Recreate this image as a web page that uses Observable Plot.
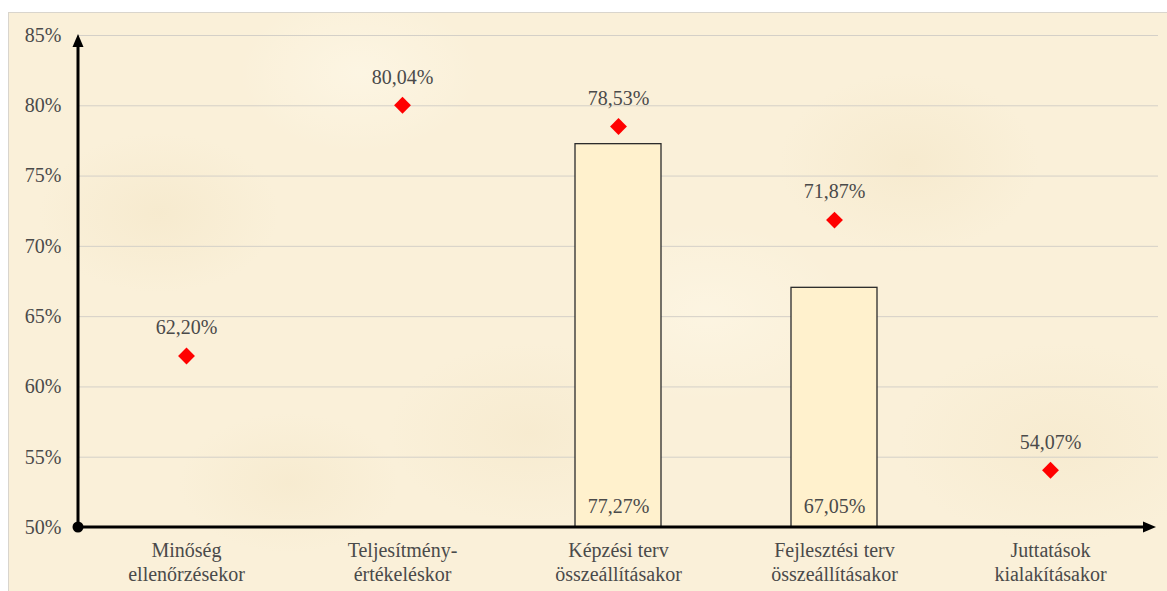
<!DOCTYPE html>
<html><head><meta charset="utf-8">
<script src="https://cdn.jsdelivr.net/npm/d3@7"></script>
<script src="https://cdn.jsdelivr.net/npm/@observablehq/plot@0.6"></script>
<style>
html,body{margin:0;padding:0;background:#fff;}
#wrap{position:relative;width:1167px;height:591px;overflow:hidden;}
#bg{position:absolute;left:8px;top:12px;width:1170px;height:600px;border:1px solid #d9d5cd;
 background:
  radial-gradient(ellipse 120px 80px at 150px 200px, rgba(240,224,188,0.35), transparent),
  radial-gradient(ellipse 140px 90px at 520px 420px, rgba(240,224,188,0.3), transparent),
  radial-gradient(ellipse 130px 90px at 900px 150px, rgba(240,224,188,0.35), transparent),
  radial-gradient(ellipse 160px 100px at 1050px 430px, rgba(240,224,188,0.3), transparent),
  radial-gradient(ellipse 120px 80px at 350px 60px, rgba(255,250,236,0.5), transparent),
  radial-gradient(ellipse 140px 90px at 700px 300px, rgba(255,250,236,0.45), transparent),
  radial-gradient(ellipse 110px 70px at 280px 470px, rgba(240,224,188,0.3), transparent),
  #faf0d9;}
#chart{position:absolute;left:0;top:0;}
#chart svg, #chart svg text, #chart svg g{font-family:"Liberation Serif","DejaVu Serif",serif !important;}
</style>
</head><body>
<div id="wrap"><div id="bg"></div><div id="chart"></div></div>
<script>
const categories = ["Minőség\nellenőrzésekor", "Teljesítmény-\nértékeléskor", "Képzési terv\nösszeállításakor", "Fejlesztési terv\nösszeállításakor", "Juttatások\nkialakításakor"];
const diamondValues = [62.20, 80.04, 78.53, 71.87, 54.07];
const barCategories = ["Képzési terv\nösszeállításakor", "Fejlesztési terv\nösszeállításakor"];
const barValues = [77.27, 67.05];
const yTicks = [50, 55, 60, 65, 70, 75, 80, 85];

const fmt = v => v.toFixed(2).replace(".", ",") + "%";
const points = categories.map((c, i) => ({cat: c, value: diamondValues[i]}));
const bars = barCategories.map((c, i) => ({cat: c, value: barValues[i]}));
const yMin = yTicks[0], yMax = yTicks[yTicks.length - 1];
const serif = "Liberation Serif, DejaVu Serif, serif";
const ink = "#4a4a4a";

function axesMark(index, scales, values, dims) {
  const ns = "http://www.w3.org/2000/svg";
  const g = document.createElementNS(ns, "g");
  const x0 = dims.marginLeft;
  const y0 = scales.y(yMin);
  const yTop = scales.y(yMax);
  const xEnd = dims.width - dims.marginRight - 2;
  const mk = (tag, attrs) => { const e = document.createElementNS(ns, tag); for (const k in attrs) e.setAttribute(k, attrs[k]); g.appendChild(e); return e; };
  mk("line", {x1: x0, y1: y0, x2: x0, y2: yTop + 8, stroke: "#000", "stroke-width": 3});
  mk("polygon", {points: `${x0},${yTop - 1} ${x0 - 5.5},${yTop + 12} ${x0 + 5.5},${yTop + 12}`, fill: "#000"});
  mk("line", {x1: x0, y1: y0, x2: xEnd - 8, y2: y0, stroke: "#000", "stroke-width": 3});
  mk("polygon", {points: `${xEnd},${y0} ${xEnd - 13},${y0 - 5.5} ${xEnd - 13},${y0 + 5.5}`, fill: "#000"});
  mk("circle", {cx: x0, cy: y0, r: 5.5, fill: "#000"});
  return g;
}

const chart = Plot.plot({
  width: 1167,
  height: 591,
  marginLeft: 78,
  marginRight: 9,
  marginTop: 35,
  marginBottom: 64,
  style: {fontFamily: serif, fontSize: "20px", color: ink, background: "transparent", overflow: "visible"},
  x: {type: "band", domain: categories, paddingInner: 0.6, paddingOuter: 0.3},
  y: {domain: [yMin, yMax]},
  marks: [
    Plot.gridY(yTicks.slice(1), {stroke: "#d4d0c8", strokeOpacity: 1, strokeWidth: 1}),
    Plot.barY(bars, {x: "cat", y1: () => yMin, y2: "value", fill: "#fff1cd", stroke: "#2b2b2b", strokeWidth: 1.3}),
    Plot.text(bars, {x: "cat", y: () => yMin, text: d => fmt(d.value), dy: -21, fill: ink, fontSize: 20, fontFamily: serif}),
    Plot.axisY({ticks: yTicks, tickFormat: d => d + "%", tickSize: 0, tickPadding: 17, label: null, fontSize: 20, fill: ink, fontFamily: serif}),
    Plot.axisX({tickSize: 0, tickPadding: 12, label: null, fontSize: 20, fill: ink, lineHeight: 1.2, fontFamily: serif}),
    axesMark,
    Plot.dot(points, {x: "cat", y: "value", symbol: "diamond2", r: 7.6, fill: "#ff0000", stroke: "none"}),
    Plot.text(points, {x: "cat", y: "value", text: d => fmt(d.value), dy: -28, fill: ink, fontSize: 20, fontFamily: serif})
  ]
});
document.getElementById("chart").appendChild(chart);
</script>
</body></html>
